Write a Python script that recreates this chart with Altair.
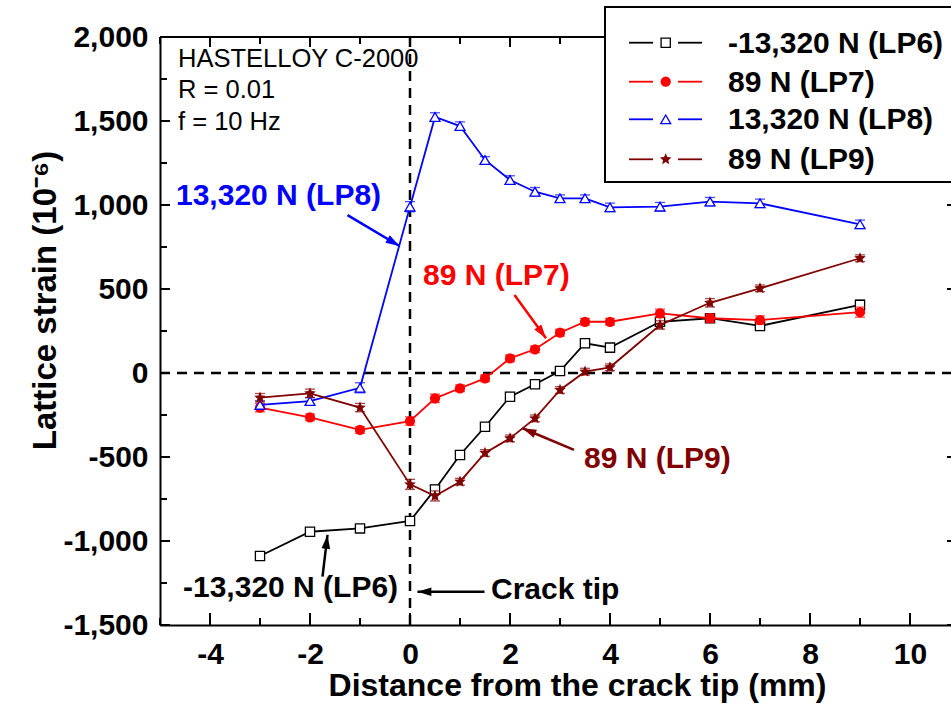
import math
import altair as alt
import pandas as pd

# ---------------- data ----------------
X = [-3, -2, -1, 0, 0.5, 1, 1.5, 2, 2.5, 3, 3.5, 4, 5, 6, 7, 9]

LP6 = [-1089, -945, -925, -881, -693, -488, -320, -141, -67, 12, 177, 151, 305, 326, 280, 405]
LP7 = [-206, -264, -339, -286, -151, -91, -32, 87, 141, 240, 305, 305, 355, 326, 315, 362]
LP8 = [-190, -167, -88, 990, 1524, 1470, 1268, 1149, 1079, 1040, 1040, 986, 990, 1020, 1010, 885]
LP9 = [-147, -121, -206, -663, -732, -647, -476, -389, -270, -101, 8, 34, 286, 418, 504, 683]

LP6_ERR = [25, 20, 20, 25, 25, 20, 20, 25, 20, 20, 25, 20, 25, 20, 25, 30]
LP7_ERR = [25, 20, 20, 25, 25, 20, 20, 20, 20, 20, 20, 20, 25, 25, 25, 30]
LP8_ERR = [25, 20, 30, 30, 25, 25, 20, 25, 25, 20, 20, 25, 25, 25, 25, 25]
LP9_ERR = [25, 25, 25, 30, 30, 20, 20, 20, 20, 20, 20, 20, 25, 25, 20, 20]

SERIES = ["-13,320 N (LP6)", "89 N (LP7)", "13,320 N (LP8)", "89 N (LP9)"]

X_TICKS = [-4, -2, 0, 2, 4, 6, 8, 10]
X_MINOR = [-5, -3, -1, 1, 3, 5, 7, 9]
Y_TICKS = [-1500, -1000, -500, 0, 500, 1000, 1500, 2000]
Y_MINOR = [-1250, -750, -250, 250, 750, 1250, 1750]

INFO_TEXT = ["HASTELLOY C-2000", "R = 0.01", "f = 10 Hz"]
INFO_X = [-4.64, -4.64, -4.64]
INFO_Y = [1821, 1637, 1446]

LABEL_TEXT = ["13,320 N (LP8)", "89 N (LP7)", "89 N (LP9)", "-13,320 N (LP6)", "Crack tip"]
LABEL_X = [-4.68, 0.26, 3.48, -4.54, 1.62]
LABEL_Y = [1000, 524, -565, -1333, -1345]

ARROW_X1 = [-1.25, 2.09, 3.28, -1.75, 1.49]
ARROW_Y1 = [940, 464, -458, -1212, -1302]
ARROW_X2 = [-0.21, 2.72, 2.25, -1.65, 0.15]
ARROW_Y2 = [756, 207, -329, -964, -1302]

# ---------------- style ----------------
FONT = "Liberation Sans"
W, H = 791, 588
XMIN, XMAX = -5, 10.82
YMIN, YMAX = -1500, 2000
PXX = W / (XMAX - XMIN)
PXY = H / (YMAX - YMIN)

BLACK, RED, BLUE, BROWN = "#000000", "#ff0000", "#0000ff", "#800000"
COLORS = [BLACK, RED, BLUE, BROWN]
LABEL_COLORS = [BLUE, RED, BROWN, BLACK, BLACK]

# star path
pts = []
for k in range(10):
    a = math.radians(-90 + 36 * k)
    r = 1.0 if k % 2 == 0 else 0.45
    pts.append(f"{r * math.cos(a):.3f},{r * math.sin(a):.3f}")
STAR = "M" + " L".join(pts) + " Z"
ARROW_HEAD = "M0,0 L0.5,1.6 L-0.5,1.6 Z"

SHAPES = ["square", "circle", "triangle-up", STAR]
FILLED = [False, True, False, True]
SIZES = [85, 105, 100, 150]

xs = alt.Scale(domain=[XMIN, XMAX], nice=False, zero=False)
ys = alt.Scale(domain=[YMIN, YMAX], nice=False, zero=False)

MINUS_FIX = "replace(datum.label, '\u2212', '-')"

x_axis = alt.Axis(
    values=X_TICKS, title="Distance from the crack tip (mm)", grid=False,
    ticks=False, tickSize=0, domain=True, domainColor=BLACK, domainWidth=2,
    labelFont=FONT, labelFontSize=30, labelFontWeight="bold", labelColor=BLACK,
    labelPadding=14, labelExpr=MINUS_FIX,
    titleFont=FONT, titleFontSize=32, titleFontWeight="bold",
    titleColor=BLACK, titleX=417, titleY=70, titleBaseline="alphabetic",
    titleAnchor="start", titleAlign="center",
)
y_axis = alt.Axis(
    values=Y_TICKS, format=",d", title="Lattice strain (10⁻⁶)", grid=False,
    ticks=False, tickSize=0, domain=True, domainColor=BLACK, domainWidth=2,
    labelFont=FONT, labelFontSize=30, labelFontWeight="bold", labelColor=BLACK,
    labelPadding=12, labelExpr=MINUS_FIX,
    titleFont=FONT, titleFontSize=33, titleFontWeight="bold",
    titleColor=BLACK, titleX=-115, titleY=263, titleAngle=270,
    titleAlign="center", titleBaseline="middle",
)


def XF(f):
    return alt.X(f, type="quantitative", scale=xs, axis=x_axis)


def YF(f):
    return alt.Y(f, type="quantitative", scale=ys, axis=y_axis)


one = pd.DataFrame({"a": [0]})
layers = []

# reference dashed lines
ref = pd.DataFrame({"x": [XMIN, 0], "x2": [XMAX, 0], "y": [0, YMIN], "y2": [0, YMAX]})
layers.append(
    alt.Chart(ref).mark_rule(color=BLACK, strokeWidth=2.5, strokeDash=[10, 7]).encode(
        x=XF("x"), x2="x2", y=YF("y"), y2="y2"
    )
)

# frame top line
top = pd.DataFrame({"x": [XMIN], "x2": [XMAX], "y": [YMAX]})
layers.append(
    alt.Chart(top).mark_rule(color=BLACK, strokeWidth=2).encode(x=XF("x"), x2="x2", y=YF("y"))
)

# inward ticks
xt = pd.DataFrame({"v": X_TICKS})
xm = pd.DataFrame({"v": X_MINOR})
yt = pd.DataFrame({"v": Y_TICKS})
ym = pd.DataFrame({"v": Y_MINOR})
tick_style = dict(color=BLACK, strokeWidth=2)
layers += [
    alt.Chart(xt).mark_rule(**tick_style).encode(x=XF("v"), y=alt.value(H), y2=alt.value(H - 12)),
    alt.Chart(xm).mark_rule(**tick_style).encode(x=XF("v"), y=alt.value(H), y2=alt.value(H - 7)),
    alt.Chart(xt).mark_rule(**tick_style).encode(x=XF("v"), y=alt.value(0), y2=alt.value(10)),
    alt.Chart(xm).mark_rule(**tick_style).encode(x=XF("v"), y=alt.value(0), y2=alt.value(7)),
    alt.Chart(yt).mark_rule(**tick_style).encode(y=YF("v"), x=alt.value(0), x2=alt.value(10)),
    alt.Chart(ym).mark_rule(**tick_style).encode(y=YF("v"), x=alt.value(0), x2=alt.value(7)),
    alt.Chart(yt).mark_rule(**tick_style).encode(y=YF("v"), x=alt.value(W - 4), x2=alt.value(W)),
]

# series
for i, (name, vals, errs) in enumerate(
    zip(SERIES, [LP6, LP7, LP8, LP9], [LP6_ERR, LP7_ERR, LP8_ERR, LP9_ERR])
):
    df = pd.DataFrame({"x": X, "y": vals})
    df["lo"] = [v - e for v, e in zip(vals, errs)]
    df["hi"] = [v + e for v, e in zip(vals, errs)]
    c = COLORS[i]
    layers.append(
        alt.Chart(df).mark_line(color=c, strokeWidth=1.8).encode(x=XF("x"), y=YF("y"))
    )
    layers.append(
        alt.Chart(df).mark_errorbar(
            color=c, thickness=1.2, ticks={"size": 10, "thickness": 1.3}
        ).encode(x=XF("x"), y=YF("lo"), y2="hi")
    )
    layers.append(
        alt.Chart(df).mark_point(
            shape=SHAPES[i], size=SIZES[i], filled=True,
            fill=c if FILLED[i] else "white", stroke=c,
            strokeWidth=0 if FILLED[i] else 1.3, opacity=1,
        ).encode(x=XF("x"), y=YF("y"))
    )

# info text
info = pd.DataFrame({"x": INFO_X, "y": INFO_Y, "t": INFO_TEXT})
layers.append(
    alt.Chart(info).mark_text(
        font=FONT, fontSize=25.5, color=BLACK, align="left", baseline="alphabetic"
    ).encode(x=XF("x"), y=YF("y"), text="t")
)

# labels & arrows
for i in range(len(LABEL_TEXT)):
    c = LABEL_COLORS[i]
    lab = pd.DataFrame({"x": [LABEL_X[i]], "y": [LABEL_Y[i]], "t": [LABEL_TEXT[i]]})
    layers.append(
        alt.Chart(lab).mark_text(
            font=FONT, fontSize=30, fontWeight="bold", color=c, align="left",
            baseline="alphabetic",
        ).encode(x=XF("x"), y=YF("y"), text="t")
    )
    arr = pd.DataFrame({
        "x": [ARROW_X1[i]], "y": [ARROW_Y1[i]], "x2": [ARROW_X2[i]], "y2": [ARROW_Y2[i]]
    })
    layers.append(
        alt.Chart(arr).mark_rule(color=c, strokeWidth=2.5).encode(
            x=XF("x"), y=YF("y"), x2="x2", y2="y2"
        )
    )
    dx = (ARROW_X2[i] - ARROW_X1[i]) * PXX
    dy = -(ARROW_Y2[i] - ARROW_Y1[i]) * PXY
    ang = math.degrees(math.atan2(dx, -dy)) % 360
    layers.append(
        alt.Chart(arr).mark_point(
            shape=ARROW_HEAD, size=300, filled=True, fill=c, strokeWidth=0,
            opacity=1, angle=ang,
        ).encode(x=XF("x2"), y=YF("y2"))
    )

# legend
layers.append(
    alt.Chart(one).mark_rect(fill="white", stroke=BLACK, strokeWidth=2).encode(
        x=alt.value(445), x2=alt.value(805), y=alt.value(-30), y2=alt.value(145)
    )
)
LEG_Y = [5.7, 44.7, 82.3, 122.3]
for i in range(4):
    c = COLORS[i]
    yv = LEG_Y[i]
    layers.append(
        alt.Chart(one).mark_rule(color=c, strokeWidth=1.8).encode(
            x=alt.value(469), x2=alt.value(493), y=alt.value(yv)
        )
    )
    layers.append(
        alt.Chart(one).mark_rule(color=c, strokeWidth=1.8).encode(
            x=alt.value(518), x2=alt.value(542), y=alt.value(yv)
        )
    )
    layers.append(
        alt.Chart(one).mark_point(
            shape=SHAPES[i], size=SIZES[i], filled=True,
            fill=c if FILLED[i] else "white", stroke=c,
            strokeWidth=0 if FILLED[i] else 1.3, opacity=1,
        ).encode(x=alt.value(505.7), y=alt.value(yv))
    )
    layers.append(
        alt.Chart(one).mark_text(
            text=SERIES[i], font=FONT, fontSize=30, fontWeight="bold", color=BLACK,
            align="left", baseline="middle",
        ).encode(x=alt.value(568), y=alt.value(yv + 1))
    )

chart = alt.layer(*layers).properties(
    width=W, height=H,
    autosize=alt.AutoSizeParams(type="none"),
    padding={"left": 160, "top": 37, "right": 0, "bottom": 81},
).configure_view(stroke=None).configure(background="white")

chart.save("out.html", embed_options={"renderer": "svg", "actions": False})
